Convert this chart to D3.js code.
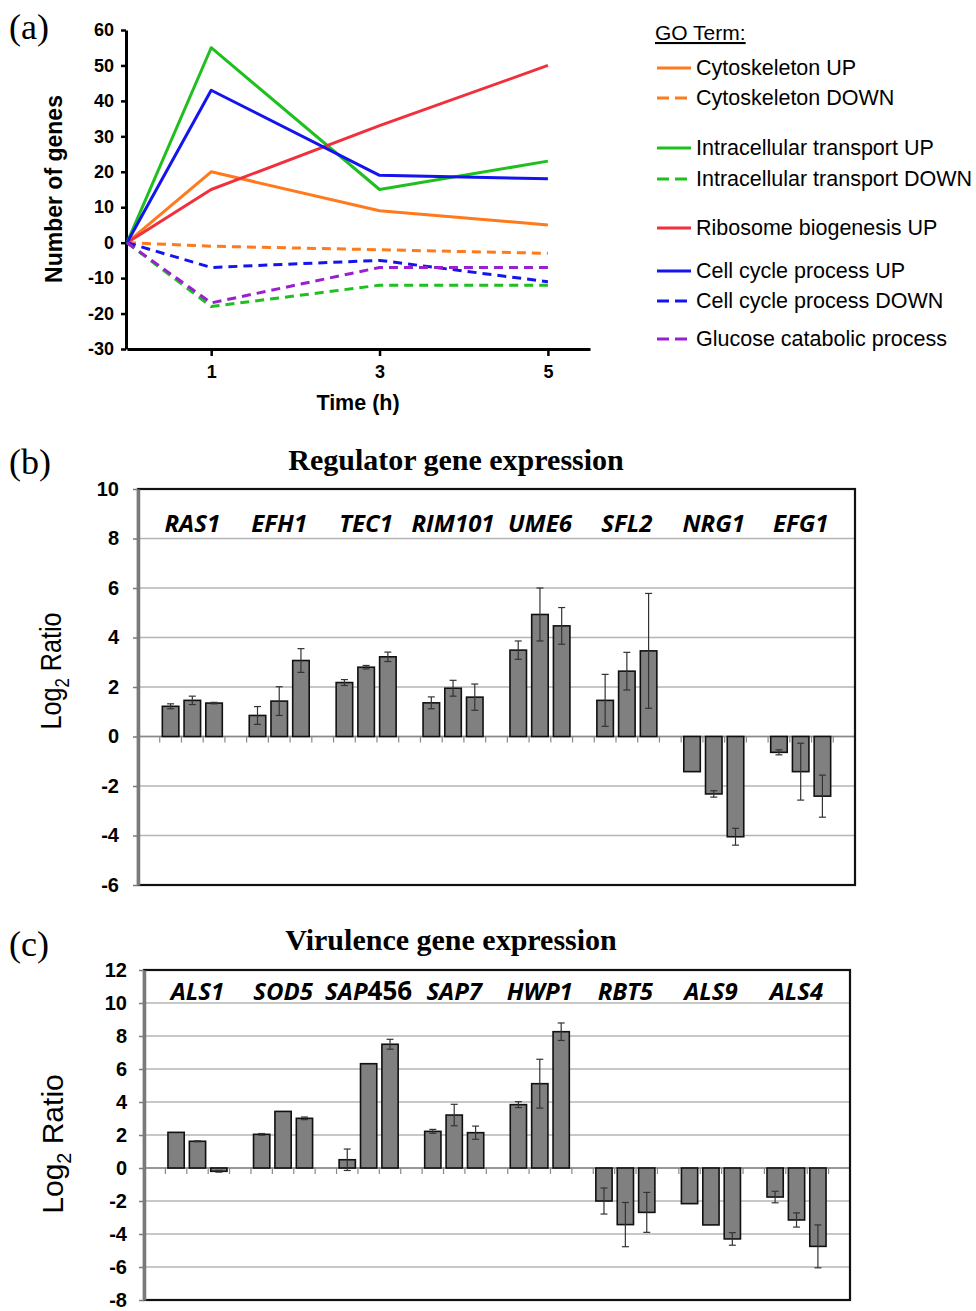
<!DOCTYPE html>
<html lang="en">
<head>
<meta charset="utf-8">
<title>GO terms and gene expression</title>
<style>
  body { margin: 0; background: #fff; }
  svg { display: block; }
</style>
</head>
<body>
<svg id="fig" width="976" height="1311"></svg>
<script src="https://cdn.jsdelivr.net/npm/d3@7"></script>
<script>
// ---- panel (a) data ----
const timePoints = [0, 1, 3, 5];
const goNames = ["Cytoskeleton UP", "Cytoskeleton DOWN", "Intracellular transport UP",
  "Intracellular transport DOWN", "Ribosome biogenesis UP", "Cell cycle process UP",
  "Cell cycle process DOWN", "Glucose catabolic process"];
const cytoUp = [0, 20, 9, 5];
const cytoDown = [0, -1, -2, -3];
const transUp = [0, 55, 15, 23];
const transDown = [0, -18, -12, -12];
const riboUp = [0, 15, 33, 50];
const cellUp = [0, 43, 19, 18];
const cellDown = [0, -7, -5, -11];
const glucose = [0, -17, -7, -7];
const goSeries = [cytoUp, cytoDown, transUp, transDown, riboUp, cellUp, cellDown, glucose];
const goColors = ["#ff7a1c", "#ff7a1c", "#1fbf1f", "#1fbf1f", "#f0303c", "#1414ee", "#1414ee", "#9a1fd0"];
const goDashed = [false, true, false, true, false, false, true, true];
const yTicksA = [-30, -20, -10, 0, 10, 20, 30, 40, 50, 60];
const xTicksA = [1, 3, 5];

// ---- panel (b) data ----
const regGenes = ["RAS1", "EFH1", "TEC1", "RIM101", "UME6", "SFL2", "NRG1", "EFG1"];
const regValues = [[1.22, 1.46, 1.35], [0.85, 1.43, 3.07], [2.18, 2.80, 3.22], [1.36, 1.95, 1.59],
  [3.49, 4.93, 4.47], [1.46, 2.64, 3.46], [-1.42, -2.32, -4.05], [-0.64, -1.42, -2.41]];
const regErrors = [[0.10, 0.17, 0.03], [0.36, 0.58, 0.48], [0.12, 0.07, 0.19], [0.24, 0.32, 0.53],
  [0.37, 1.07, 0.74], [1.05, 0.76, 2.32], [0.0, 0.13, 0.34], [0.10, 1.15, 0.85]];
const regTicks = [-6, -4, -2, 0, 2, 4, 6, 8, 10];

// ---- panel (c) data ----
const virGenes = ["ALS1", "SOD5", "SAP456", "SAP7", "HWP1", "RBT5", "ALS9", "ALS4"];
const virValues = [[2.16, 1.62, -0.20], [2.04, 3.43, 3.01], [0.50, 6.32, 7.50], [2.22, 3.21, 2.14],
  [3.84, 5.11, 8.26], [-2.00, -3.43, -2.69], [-2.16, -3.45, -4.30], [-1.76, -3.15, -4.75]];
const virErrors = [[0.0, 0.03, 0.05], [0.05, 0.0, 0.08], [0.65, 0.0, 0.30], [0.12, 0.65, 0.40],
  [0.18, 1.48, 0.53], [0.79, 1.34, 1.21], [0.0, 0.0, 0.38], [0.35, 0.43, 1.30]];
const virTicks = [-8, -6, -4, -2, 0, 2, 4, 6, 8, 10, 12];

const svg = d3.select("#fig");
const sans = "'Liberation Sans', Arial, sans-serif";
const serif = "'Liberation Serif', 'Times New Roman', serif";
const hyphenFmt = d => (d < 0 ? "-" + (-d) : String(d));

function panelLetter(txt, y) {
  svg.append("text").attr("x", 9).attr("y", y)
    .style("font-family", serif).style("font-size", "36px").text(txt);
}

// ================= panel (a) =================
panelLetter("(a)", 39);
const xA = d3.scaleLinear().domain([0, 5.5]).range([127, 590]);
const yA = d3.scaleLinear().domain([-30, 60]).range([349, 30]);

const gA = svg.append("g");
const yAxisA = gA.append("g").attr("transform", "translate(126,0)")
  .call(d3.axisLeft(yA).tickValues(yTicksA).tickFormat(hyphenFmt)
    .tickSize(5).tickSizeOuter(0).tickPadding(7));
const xAxisA = gA.append("g").attr("transform", "translate(0,349)")
  .call(d3.axisBottom(xA).tickValues(xTicksA).tickFormat(hyphenFmt)
    .tickSize(7).tickSizeOuter(0).tickPadding(9));
[yAxisA, xAxisA].forEach(ax => {
  ax.select(".domain").attr("stroke", "#000").attr("stroke-width", 3);
  ax.selectAll(".tick line").attr("stroke", "#000").attr("stroke-width", 2.5);
  ax.selectAll("text").style("font-family", sans).style("font-weight", "bold")
    .style("font-size", "18px").attr("fill", "#000");
});

const line = d3.line().x((d, i) => xA(timePoints[i])).y(d => yA(d));
goSeries.forEach((s, i) => {
  gA.append("path").datum(s).attr("d", line)
    .attr("fill", "none").attr("stroke", goColors[i]).attr("stroke-width", 3)
    .attr("stroke-linejoin", "round")
    .attr("stroke-dasharray", goDashed[i] ? "9,6" : null);
});

gA.append("text").attr("transform", "translate(62,189) rotate(-90)")
  .attr("text-anchor", "middle")
  .style("font-family", sans).style("font-weight", "bold").style("font-size", "23px")
  .text("Number of genes");
gA.append("text").attr("x", 358).attr("y", 410).attr("text-anchor", "middle")
  .style("font-family", sans).style("font-weight", "bold").style("font-size", "21.5px")
  .text("Time (h)");

// legend
const legend = svg.append("g");
legend.append("text").attr("x", 655).attr("y", 40)
  .style("font-family", sans).style("font-size", "21px")
  .attr("text-decoration", "underline").text("GO Term:");
const legendY = [68, 98, 148, 179, 228, 271, 301, 339];
goNames.forEach((name, i) => {
  const y = legendY[i];
  legend.append("line").attr("x1", 657).attr("x2", 691).attr("y1", y).attr("y2", y)
    .attr("stroke", goColors[i]).attr("stroke-width", 3)
    .attr("stroke-dasharray", goDashed[i] ? "12,6" : null);
  legend.append("text").attr("x", 696).attr("y", y + 7)
    .style("font-family", sans).style("font-size", "21.5px").text(name);
});

// ================= bar panels =================
function barPanel(opt) {
  const g = svg.append("g");
  const y = d3.scaleLinear().domain(opt.domain).range([opt.bottom, opt.top]);
  const slots = d3.range(opt.genes.length * 4 + 1);
  const x = d3.scaleBand().domain(slots).range([opt.left, opt.right]).padding(0);

  // gridlines
  g.selectAll(".grid").data(opt.ticks.filter(t => t !== opt.domain[0] && t !== opt.domain[1]))
    .enter().append("line")
    .attr("x1", opt.left).attr("x2", opt.right)
    .attr("y1", d => y(d)).attr("y2", d => y(d))
    .attr("stroke", "#b4b4b4").attr("stroke-width", 1.3);

  // category axis ticks at slot boundaries on the zero line
  g.selectAll(".ctick").data(slots.slice(1)).enter().append("line")
    .attr("x1", d => x(d)).attr("x2", d => x(d))
    .attr("y1", y(0)).attr("y2", y(0) + 6)
    .attr("stroke", "#888").attr("stroke-width", 1.2);
  g.append("line").attr("x1", opt.left).attr("x2", opt.right)
    .attr("y1", y(0)).attr("y2", y(0)).attr("stroke", "#888").attr("stroke-width", 1.5);

  // bars
  const bars = [];
  opt.values.forEach((grp, gi) => grp.forEach((v, k) =>
    bars.push({ slot: gi * 4 + 1 + k, v: v, e: opt.errors[gi][k] })));
  const bw = x.bandwidth() * 0.76;
  g.selectAll(".bar").data(bars).enter().append("rect")
    .attr("x", d => x(d.slot) + (x.bandwidth() - bw) / 2)
    .attr("width", bw)
    .attr("y", d => y(Math.max(0, d.v)))
    .attr("height", d => Math.abs(y(d.v) - y(0)))
    .attr("fill", "#808080").attr("stroke", "#111").attr("stroke-width", 1.6);

  // error bars
  const eb = g.selectAll(".err").data(bars.filter(d => d.e > 0)).enter().append("g")
    .attr("stroke", "#333").attr("stroke-width", 1.2);
  const cx = d => x(d.slot) + x.bandwidth() / 2;
  eb.append("line").attr("x1", cx).attr("x2", cx)
    .attr("y1", d => y(d.v - d.e)).attr("y2", d => y(d.v + d.e));
  eb.append("line").attr("x1", d => cx(d) - 3.5).attr("x2", d => cx(d) + 3.5)
    .attr("y1", d => y(d.v + d.e)).attr("y2", d => y(d.v + d.e));
  eb.append("line").attr("x1", d => cx(d) - 3.5).attr("x2", d => cx(d) + 3.5)
    .attr("y1", d => y(d.v - d.e)).attr("y2", d => y(d.v - d.e));

  // frame
  g.append("rect").attr("x", opt.left).attr("y", opt.top)
    .attr("width", opt.right - opt.left).attr("height", opt.bottom - opt.top)
    .attr("fill", "none").attr("stroke", "#111").attr("stroke-width", 2.2);

  // value axis
  const ax = g.append("g").attr("transform", `translate(${opt.left},0)`)
    .call(d3.axisLeft(y).tickValues(opt.ticks).tickFormat(hyphenFmt)
      .tickSize(5).tickSizeOuter(0).tickPadding(opt.tickPad));
  ax.select(".domain").attr("stroke", "#7a7a7a").attr("stroke-width", 3.5);
  ax.selectAll(".tick line").attr("stroke", "#7a7a7a").attr("stroke-width", 1.5);
  ax.selectAll("text").style("font-family", sans).style("font-weight", "bold")
    .style("font-size", "20px").attr("fill", "#000");

  // gene names
  opt.genes.forEach((name, gi) => {
    const t = g.append("text").attr("x", x(gi * 4 + 2) + x.bandwidth() / 2)
      .attr("y", opt.top + opt.labelDy).attr("text-anchor", "middle")
      .style("font-family", "'Open Sans', Lato, sans-serif").style("font-weight", "bold")
      .style("font-size", "24px");
    if (name === "SAP456") {
      t.append("tspan").style("font-style", "italic").text("SAP");
      t.append("tspan").style("font-size", "26px").text("456");
    } else {
      t.style("font-style", "italic").text(name);
    }
  });

  // titles
  g.append("text").attr("x", opt.titleX).attr("y", opt.titleY).attr("text-anchor", "middle")
    .style("font-family", serif).style("font-weight", "bold").style("font-size", "30px")
    .text(opt.title);
  const yl = g.append("text")
    .attr("transform", `translate(${opt.ylabX},${opt.ylabY}) rotate(-90) scale(${opt.ylabScale},1)`)
    .attr("text-anchor", "middle").style("font-family", sans).style("font-size", opt.ylabSize + "px");
  yl.append("tspan").text("Log");
  yl.append("tspan").attr("dy", 8).style("font-size", (opt.ylabSize * 0.66) + "px").text("2");
  yl.append("tspan").attr("dy", -8).text(" Ratio");
}

panelLetter("(b)", 474);
barPanel({
  genes: regGenes, values: regValues, errors: regErrors, ticks: regTicks,
  domain: [-6, 10], left: 138, right: 855, top: 489, bottom: 885, tickPad: 14,
  labelDy: 43, title: "Regulator gene expression", titleX: 456, titleY: 470,
  ylabX: 61, ylabY: 671, ylabSize: 30, ylabScale: 0.84
});

panelLetter("(c)", 956);
barPanel({
  genes: virGenes, values: virValues, errors: virErrors, ticks: virTicks,
  domain: [-8, 12], left: 144, right: 850, top: 970, bottom: 1300, tickPad: 12,
  labelDy: 30, title: "Virulence gene expression", titleX: 451, titleY: 950,
  ylabX: 63, ylabY: 1144, ylabSize: 30, ylabScale: 1
});
</script>
</body>
</html>
